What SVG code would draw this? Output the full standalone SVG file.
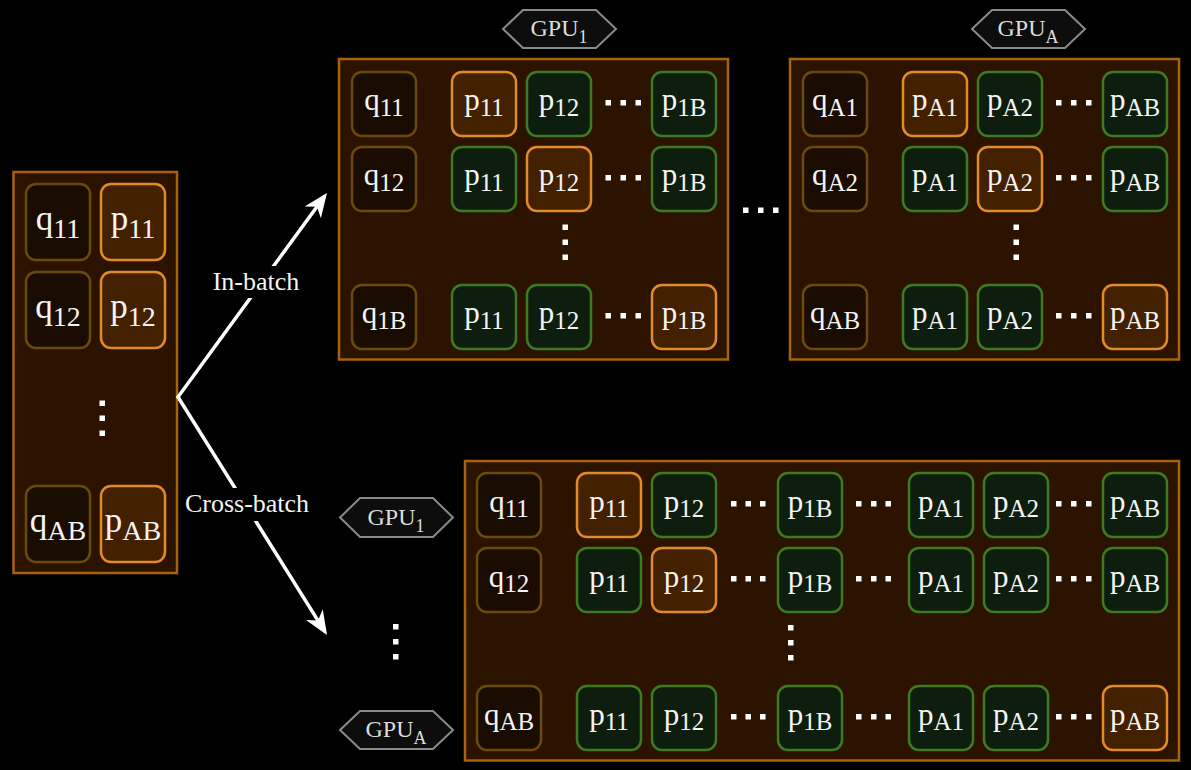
<svg xmlns="http://www.w3.org/2000/svg" width="1191" height="770" viewBox="0 0 1191 770">
<defs>
<style>
.panel{fill:#2b1300;stroke:#a8620a;stroke-width:2.5}
.q{fill:#1a0c00;stroke:#6a4a08;stroke-width:2.5}
.po{fill:#432000;stroke:#e08a28;stroke-width:2.5}
.pg{fill:#0e1e0e;stroke:#3f7a20;stroke-width:2.5}
.t{font-family:"Liberation Serif","Times New Roman",serif;fill:#f4f4f4;text-anchor:middle;font-size:31px}
.tl{font-family:"Liberation Serif","Times New Roman",serif;fill:#f4f4f4;text-anchor:middle;font-size:35px}
.s{font-size:25px}
.sl{font-size:28px}
.hex{fill:#0d0d0d;stroke:#8a8a8a;stroke-width:2}
.gt{font-family:"Liberation Serif","Times New Roman",serif;fill:#dcdcdc;text-anchor:middle;font-size:24px}
.gs{font-size:18px}
.lbl{font-family:"Liberation Serif","Times New Roman",serif;fill:#f4f4f4;text-anchor:middle;font-size:26px}
.d{fill:#ffffff}
.arr{fill:none;stroke:#ffffff;stroke-width:3.5;stroke-linejoin:miter}
</style>
<marker id="ah" markerUnits="userSpaceOnUse" viewBox="0 0 24 20" markerWidth="24" markerHeight="20" refX="20" refY="10" orient="auto-start-reverse">
<path d="M0,0 L24,10 L0,20 L7,10 z" fill="#ffffff"/>
</marker>
</defs>
<rect width="1191" height="770" fill="#000"/>

<!-- Left panel -->
<g id="left-panel">
<rect class="panel" x="13.5" y="172" width="163.5" height="401"/>
<g id="L-q11"><rect class="q" x="26" y="184" width="64" height="76" rx="10"/><text class="tl" x="58" y="230">q<tspan class="sl" dy="8">11</tspan></text></g>
<g id="L-p11"><rect class="po" x="101" y="184" width="64" height="76" rx="10"/><text class="tl" x="133" y="230">p<tspan class="sl" dy="8">11</tspan></text></g>
<g id="L-q12"><rect class="q" x="26" y="272" width="64" height="76" rx="10"/><text class="tl" x="58" y="318">q<tspan class="sl" dy="8">12</tspan></text></g>
<g id="L-p12"><rect class="po" x="101" y="272" width="64" height="76" rx="10"/><text class="tl" x="133" y="318">p<tspan class="sl" dy="8">12</tspan></text></g>
<rect class="d" x="99.5" y="400.5" width="5.5" height="5.5"/><rect class="d" x="99.5" y="415.5" width="5.5" height="5.5"/><rect class="d" x="99.5" y="430.5" width="5.5" height="5.5"/>
<g id="L-qAB"><rect class="q" x="26" y="486" width="64" height="76" rx="10"/><text class="tl" x="58" y="532">q<tspan class="sl" dy="8">AB</tspan></text></g>
<g id="L-pAB"><rect class="po" x="101" y="486" width="64" height="76" rx="10"/><text class="tl" x="133" y="532">p<tspan class="sl" dy="8">AB</tspan></text></g>
</g>

<!-- Connectors -->
<g id="connectors">
<path class="arr" d="M324.6,196.2 L178,397 L324.9,631.6" marker-start="url(#ah)" marker-end="url(#ah)"/>
<rect x="208" y="266" width="96" height="32" fill="#000"/>
<text class="lbl" x="256" y="290">In-batch</text>
<rect x="180" y="488" width="134" height="33" fill="#000"/>
<text class="lbl" x="247" y="512">Cross-batch</text>
</g>

<!-- GPU labels -->
<g id="gpu1-top"><polygon class="hex" points="503,29 523,10 596,10 616,29 596,48 523,48"/><text class="gt" x="559" y="36">GPU<tspan class="gs" dy="7">1</tspan></text></g>
<g id="gpuA-top"><polygon class="hex" points="972,29 992,10 1065,10 1085,29 1065,48 992,48"/><text class="gt" x="1028" y="36">GPU<tspan class="gs" dy="7">A</tspan></text></g>
<g id="gpu1-bottom"><polygon class="hex" points="340,517.5 360,498 433,498 453,517.5 433,537 360,537"/><text class="gt" x="396" y="524.5">GPU<tspan class="gs" dy="7">1</tspan></text></g>
<g id="gpuA-bottom"><polygon class="hex" points="340,730 360,711 433,711 453,730 433,749 360,749"/><text class="gt" x="396" y="737">GPU<tspan class="gs" dy="7">A</tspan></text></g>

<!-- Top panel GPU1 -->
<g id="top-panel-1">
<rect class="panel" x="339" y="59" width="389" height="300.5"/>
<g><rect class="q" x="352" y="72" width="64" height="64" rx="10"/><text class="t" x="384" y="110">q<tspan class="s" dy="6">11</tspan></text></g>
<g><rect class="po" x="452" y="72" width="64" height="64" rx="10"/><text class="t" x="484" y="110">p<tspan class="s" dy="6">11</tspan></text></g>
<g><rect class="pg" x="527" y="72" width="64" height="64" rx="10"/><text class="t" x="559" y="110">p<tspan class="s" dy="6">12</tspan></text></g>
<rect class="d" x="605.5" y="100" width="5.5" height="5.5"/><rect class="d" x="620.5" y="100" width="5.5" height="5.5"/><rect class="d" x="635.5" y="100" width="5.5" height="5.5"/>
<g><rect class="pg" x="652" y="72" width="64" height="64" rx="10"/><text class="t" x="684" y="110">p<tspan class="s" dy="6">1B</tspan></text></g>

<g><rect class="q" x="352" y="147" width="64" height="64" rx="10"/><text class="t" x="384" y="185">q<tspan class="s" dy="6">12</tspan></text></g>
<g><rect class="pg" x="452" y="147" width="64" height="64" rx="10"/><text class="t" x="484" y="185">p<tspan class="s" dy="6">11</tspan></text></g>
<g><rect class="po" x="527" y="147" width="64" height="64" rx="10"/><text class="t" x="559" y="185">p<tspan class="s" dy="6">12</tspan></text></g>
<rect class="d" x="605.5" y="175" width="5.5" height="5.5"/><rect class="d" x="620.5" y="175" width="5.5" height="5.5"/><rect class="d" x="635.5" y="175" width="5.5" height="5.5"/>
<g><rect class="pg" x="652" y="147" width="64" height="64" rx="10"/><text class="t" x="684" y="185">p<tspan class="s" dy="6">1B</tspan></text></g>

<rect class="d" x="562.5" y="224.5" width="5.5" height="5.5"/><rect class="d" x="562.5" y="239.5" width="5.5" height="5.5"/><rect class="d" x="562.5" y="254.5" width="5.5" height="5.5"/>

<g><rect class="q" x="352" y="285" width="64" height="64" rx="10"/><text class="t" x="384" y="323">q<tspan class="s" dy="6">1B</tspan></text></g>
<g><rect class="pg" x="452" y="285" width="64" height="64" rx="10"/><text class="t" x="484" y="323">p<tspan class="s" dy="6">11</tspan></text></g>
<g><rect class="pg" x="527" y="285" width="64" height="64" rx="10"/><text class="t" x="559" y="323">p<tspan class="s" dy="6">12</tspan></text></g>
<rect class="d" x="605.5" y="313" width="5.5" height="5.5"/><rect class="d" x="620.5" y="313" width="5.5" height="5.5"/><rect class="d" x="635.5" y="313" width="5.5" height="5.5"/>
<g><rect class="po" x="652" y="285" width="64" height="64" rx="10"/><text class="t" x="684" y="323">p<tspan class="s" dy="6">1B</tspan></text></g>
</g>

<!-- Between-panel dots -->
<g id="between-dots"><rect class="d" x="743" y="207.5" width="5.5" height="5.5"/><rect class="d" x="758" y="207.5" width="5.5" height="5.5"/><rect class="d" x="773" y="207.5" width="5.5" height="5.5"/></g>

<!-- Top panel GPUA -->
<g id="top-panel-A">
<rect class="panel" x="790" y="59" width="389" height="300.5"/>
<g><rect class="q" x="803" y="72" width="64" height="64" rx="10"/><text class="t" x="835" y="110">q<tspan class="s" dy="6">A1</tspan></text></g>
<g><rect class="po" x="903" y="72" width="64" height="64" rx="10"/><text class="t" x="935" y="110">p<tspan class="s" dy="6">A1</tspan></text></g>
<g><rect class="pg" x="978" y="72" width="64" height="64" rx="10"/><text class="t" x="1010" y="110">p<tspan class="s" dy="6">A2</tspan></text></g>
<rect class="d" x="1056" y="100" width="5.5" height="5.5"/><rect class="d" x="1071" y="100" width="5.5" height="5.5"/><rect class="d" x="1086" y="100" width="5.5" height="5.5"/>
<g><rect class="pg" x="1103" y="72" width="64" height="64" rx="10"/><text class="t" x="1135" y="110">p<tspan class="s" dy="6">AB</tspan></text></g>

<g><rect class="q" x="803" y="147" width="64" height="64" rx="10"/><text class="t" x="835" y="185">q<tspan class="s" dy="6">A2</tspan></text></g>
<g><rect class="pg" x="903" y="147" width="64" height="64" rx="10"/><text class="t" x="935" y="185">p<tspan class="s" dy="6">A1</tspan></text></g>
<g><rect class="po" x="978" y="147" width="64" height="64" rx="10"/><text class="t" x="1010" y="185">p<tspan class="s" dy="6">A2</tspan></text></g>
<rect class="d" x="1056" y="175" width="5.5" height="5.5"/><rect class="d" x="1071" y="175" width="5.5" height="5.5"/><rect class="d" x="1086" y="175" width="5.5" height="5.5"/>
<g><rect class="pg" x="1103" y="147" width="64" height="64" rx="10"/><text class="t" x="1135" y="185">p<tspan class="s" dy="6">AB</tspan></text></g>

<rect class="d" x="1013.5" y="224.5" width="5.5" height="5.5"/><rect class="d" x="1013.5" y="239.5" width="5.5" height="5.5"/><rect class="d" x="1013.5" y="254.5" width="5.5" height="5.5"/>

<g><rect class="q" x="803" y="285" width="64" height="64" rx="10"/><text class="t" x="835" y="323">q<tspan class="s" dy="6">AB</tspan></text></g>
<g><rect class="pg" x="903" y="285" width="64" height="64" rx="10"/><text class="t" x="935" y="323">p<tspan class="s" dy="6">A1</tspan></text></g>
<g><rect class="pg" x="978" y="285" width="64" height="64" rx="10"/><text class="t" x="1010" y="323">p<tspan class="s" dy="6">A2</tspan></text></g>
<rect class="d" x="1056" y="313" width="5.5" height="5.5"/><rect class="d" x="1071" y="313" width="5.5" height="5.5"/><rect class="d" x="1086" y="313" width="5.5" height="5.5"/>
<g><rect class="po" x="1103" y="285" width="64" height="64" rx="10"/><text class="t" x="1135" y="323">p<tspan class="s" dy="6">AB</tspan></text></g>
</g>

<!-- Vertical dots between bottom GPU labels -->
<g id="gpu-dots"><rect class="d" x="393" y="624" width="5.5" height="5.5"/><rect class="d" x="393" y="639" width="5.5" height="5.5"/><rect class="d" x="393" y="654" width="5.5" height="5.5"/></g>

<!-- Bottom panel -->
<g id="bottom-panel">
<rect class="panel" x="465" y="461" width="714" height="299.5"/>
<g><rect class="q" x="477" y="473" width="64" height="64" rx="10"/><text class="t" x="509" y="512">q<tspan class="s" dy="5">11</tspan></text></g>
<g><rect class="po" x="577" y="473" width="64" height="64" rx="10"/><text class="t" x="609" y="512">p<tspan class="s" dy="5">11</tspan></text></g>
<g><rect class="pg" x="652" y="473" width="64" height="64" rx="10"/><text class="t" x="684" y="512">p<tspan class="s" dy="5">12</tspan></text></g>
<rect class="d" x="731" y="501" width="5.5" height="5.5"/><rect class="d" x="745.5" y="501" width="5.5" height="5.5"/><rect class="d" x="760" y="501" width="5.5" height="5.5"/>
<g><rect class="pg" x="778" y="473" width="64" height="64" rx="10"/><text class="t" x="810" y="512">p<tspan class="s" dy="5">1B</tspan></text></g>
<rect class="d" x="856" y="501" width="5.5" height="5.5"/><rect class="d" x="871" y="501" width="5.5" height="5.5"/><rect class="d" x="885.5" y="501" width="5.5" height="5.5"/>
<g><rect class="pg" x="909" y="473" width="64" height="64" rx="10"/><text class="t" x="941" y="512">p<tspan class="s" dy="5">A1</tspan></text></g>
<g><rect class="pg" x="984" y="473" width="64" height="64" rx="10"/><text class="t" x="1016" y="512">p<tspan class="s" dy="5">A2</tspan></text></g>
<rect class="d" x="1056" y="501" width="5.5" height="5.5"/><rect class="d" x="1071" y="501" width="5.5" height="5.5"/><rect class="d" x="1086" y="501" width="5.5" height="5.5"/>
<g><rect class="pg" x="1103" y="473" width="64" height="64" rx="10"/><text class="t" x="1135" y="512">p<tspan class="s" dy="5">AB</tspan></text></g>

<g><rect class="q" x="477" y="548" width="64" height="64" rx="10"/><text class="t" x="509" y="587">q<tspan class="s" dy="5">12</tspan></text></g>
<g><rect class="pg" x="577" y="548" width="64" height="64" rx="10"/><text class="t" x="609" y="587">p<tspan class="s" dy="5">11</tspan></text></g>
<g><rect class="po" x="652" y="548" width="64" height="64" rx="10"/><text class="t" x="684" y="587">p<tspan class="s" dy="5">12</tspan></text></g>
<rect class="d" x="731" y="576" width="5.5" height="5.5"/><rect class="d" x="745.5" y="576" width="5.5" height="5.5"/><rect class="d" x="760" y="576" width="5.5" height="5.5"/>
<g><rect class="pg" x="778" y="548" width="64" height="64" rx="10"/><text class="t" x="810" y="587">p<tspan class="s" dy="5">1B</tspan></text></g>
<rect class="d" x="856" y="576" width="5.5" height="5.5"/><rect class="d" x="871" y="576" width="5.5" height="5.5"/><rect class="d" x="885.5" y="576" width="5.5" height="5.5"/>
<g><rect class="pg" x="909" y="548" width="64" height="64" rx="10"/><text class="t" x="941" y="587">p<tspan class="s" dy="5">A1</tspan></text></g>
<g><rect class="pg" x="984" y="548" width="64" height="64" rx="10"/><text class="t" x="1016" y="587">p<tspan class="s" dy="5">A2</tspan></text></g>
<rect class="d" x="1056" y="576" width="5.5" height="5.5"/><rect class="d" x="1071" y="576" width="5.5" height="5.5"/><rect class="d" x="1086" y="576" width="5.5" height="5.5"/>
<g><rect class="pg" x="1103" y="548" width="64" height="64" rx="10"/><text class="t" x="1135" y="587">p<tspan class="s" dy="5">AB</tspan></text></g>

<rect class="d" x="788" y="625" width="5.5" height="5.5"/><rect class="d" x="788" y="640" width="5.5" height="5.5"/><rect class="d" x="788" y="655" width="5.5" height="5.5"/>

<g><rect class="q" x="477" y="686" width="64" height="64" rx="10"/><text class="t" x="509" y="725">q<tspan class="s" dy="5">AB</tspan></text></g>
<g><rect class="pg" x="577" y="686" width="64" height="64" rx="10"/><text class="t" x="609" y="725">p<tspan class="s" dy="5">11</tspan></text></g>
<g><rect class="pg" x="652" y="686" width="64" height="64" rx="10"/><text class="t" x="684" y="725">p<tspan class="s" dy="5">12</tspan></text></g>
<rect class="d" x="731" y="714" width="5.5" height="5.5"/><rect class="d" x="745.5" y="714" width="5.5" height="5.5"/><rect class="d" x="760" y="714" width="5.5" height="5.5"/>
<g><rect class="pg" x="778" y="686" width="64" height="64" rx="10"/><text class="t" x="810" y="725">p<tspan class="s" dy="5">1B</tspan></text></g>
<rect class="d" x="856" y="714" width="5.5" height="5.5"/><rect class="d" x="871" y="714" width="5.5" height="5.5"/><rect class="d" x="885.5" y="714" width="5.5" height="5.5"/>
<g><rect class="pg" x="909" y="686" width="64" height="64" rx="10"/><text class="t" x="941" y="725">p<tspan class="s" dy="5">A1</tspan></text></g>
<g><rect class="pg" x="984" y="686" width="64" height="64" rx="10"/><text class="t" x="1016" y="725">p<tspan class="s" dy="5">A2</tspan></text></g>
<rect class="d" x="1056" y="714" width="5.5" height="5.5"/><rect class="d" x="1071" y="714" width="5.5" height="5.5"/><rect class="d" x="1086" y="714" width="5.5" height="5.5"/>
<g><rect class="po" x="1103" y="686" width="64" height="64" rx="10"/><text class="t" x="1135" y="725">p<tspan class="s" dy="5">AB</tspan></text></g>
</g>
</svg>
